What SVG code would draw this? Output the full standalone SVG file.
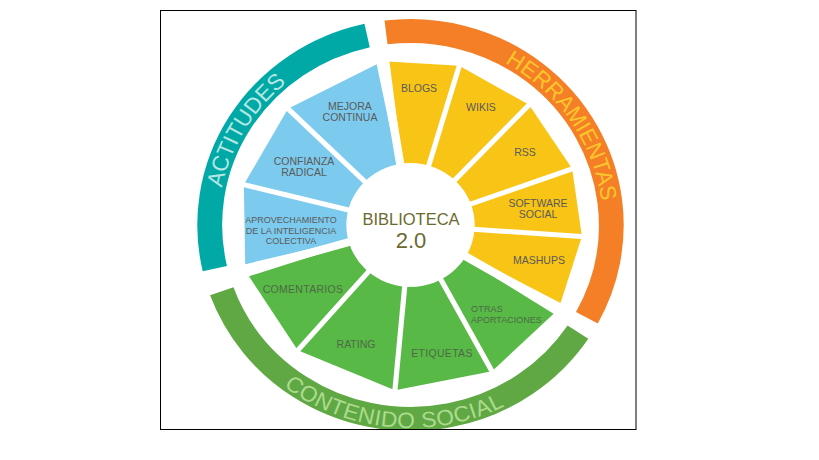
<svg xmlns="http://www.w3.org/2000/svg" width="819" height="460" viewBox="0 0 819 460">
<defs>
<style>
.lbl{font-family:"Liberation Sans",Arial,sans-serif;font-size:10.5px;fill:#5a5a5a;text-anchor:middle}
.sm{font-size:9px}
.glbl{fill:#4d6a44}
.ring{fill:none;stroke-width:24}
.rt{font-family:"Liberation Sans",Arial,sans-serif;font-size:22px}
.gap{stroke:#fff;stroke-width:5}
.wgap{stroke:#fff;stroke-width:8}
.blue{fill:#7ccaee}
.yel{fill:#f8c416}
.grn{fill:#58b947}
</style>
<clipPath id="frame"><rect x="161" y="11" width="475" height="418"/></clipPath>
</defs>
<rect width="819" height="460" fill="#fff"/>
<g clip-path="url(#frame)">
<g transform="translate(410.5,225) scale(1.035,1)">
<defs>
<path id="pA" d="M -162.2 91.0 A 186 186 0 0 1 2.3 -186.0" fill="none"/>
<path id="pH" d="M -13.0 -185.6 A 186 186 0 0 1 167.2 81.5" fill="none"/>
<path id="pC" d="M -183.4 84.6 A 201 201 0 0 0 165.0 116.5" fill="none"/>
</defs>
<g id="ring-actitudes">
<circle r="194" class="ring" stroke="#00a9a6" stroke-dasharray="306.4 2000" transform="rotate(-193)"/>
<text class="rt" fill="#b5e6e3"><textPath href="#pA" startOffset="50%" text-anchor="middle">ACTITUDES</textPath></text>
</g>
<g id="ring-herramientas">
<circle r="194" class="ring" stroke="#f47f26" stroke-dasharray="424.9 2000" transform="rotate(-97)"/>
<text class="rt" fill="#fbc62c"><textPath href="#pH" startOffset="50%" text-anchor="middle">HERRAMIENTAS</textPath></text>
</g>
<g id="ring-contenido">
<circle r="194" class="ring" stroke="#5fa843" stroke-dasharray="428.3 2000" transform="rotate(-326.5)"/>
<text class="rt" fill="#acdb8e" letter-spacing="0.5"><textPath href="#pC" startOffset="50%" text-anchor="middle">CONTENIDO SOCIAL</textPath></text>
</g>
<g id="segments">
<polygon id="seg-mejora" class="blue" points="0,0 -26.8,-163.8 -118.4,-116.3"/>
<polygon id="seg-confianza" class="blue" points="0,0 -118.4,-116.3 -161.0,-40.4"/>
<polygon id="seg-aprovechamiento" class="blue" points="0,0 -161.0,-40.4 -159.6,45.8"/>
<polygon id="seg-comentarios" class="grn" points="0,0 -159.6,45.8 -108.9,125.3"/>
<polygon id="seg-rating" class="grn" points="0,0 -108.9,125.3 -15.0,165.3"/>
<polygon id="seg-etiquetas" class="grn" points="0,0 -15.0,165.3 78.7,146.2"/>
<polygon id="seg-otras" class="grn" points="0,0 78.7,146.2 143.0,84.2"/>
<polygon id="seg-mashups" class="yel" points="0,0 143.0,84.2 165.6,11.6"/>
<polygon id="seg-software" class="yel" points="0,0 165.6,11.6 156.2,-56.2"/>
<polygon id="seg-rss" class="yel" points="0,0 156.2,-56.2 114.5,-120.2"/>
<polygon id="seg-wikis" class="yel" points="0,0 114.5,-120.2 47.1,-159.2"/>
<polygon id="seg-blogs" class="yel" points="0,0 47.1,-159.2 -26.8,-163.8"/>
</g>
<g id="separators" fill="#fff">
<line class="gap" x1="0" y1="0" x2="-128.4" y2="-126.1"/>
<line class="gap" x1="0" y1="0" x2="-174.6" y2="-43.8"/>
<line class="gap" x1="0" y1="0" x2="-118.1" y2="135.9"/>
<line class="gap" x1="0" y1="0" x2="-16.3" y2="179.2"/>
<line class="gap" x1="0" y1="0" x2="85.3" y2="158.5"/>
<line class="gap" x1="0" y1="0" x2="179.6" y2="12.6"/>
<line class="gap" x1="0" y1="0" x2="169.4" y2="-60.9"/>
<line class="gap" x1="0" y1="0" x2="124.2" y2="-130.3"/>
<line class="gap" x1="0" y1="0" x2="51.1" y2="-172.6"/>
<line class="wgap" x1="0" y1="0" x2="-28.9" y2="-177.6"/>
<line class="wgap" x1="0" y1="0" x2="-172.9" y2="49.6"/>
<line class="wgap" x1="0" y1="0" x2="155.0" y2="91.3"/>
<polygon points="0,0 -22.2,-178.6 -35.9,-176.4"/>
<polygon points="0,0 -174.8,42.9 -171.0,56.2"/>
<polygon points="0,0 151.5,97.2 158.5,85.3"/>
</g>
<circle r="62" fill="#fff"/>
</g>
</g>
<rect x="160.5" y="10.5" width="475.5" height="419" fill="none" stroke="#000" stroke-width="1"/>
<g id="center">
<text x="411" y="225" font-family="'Liberation Sans',Arial,sans-serif" font-size="16.5" fill="#6b6a2e" text-anchor="middle">BIBLIOTECA</text>
<text x="411" y="247.5" font-family="'Liberation Sans',Arial,sans-serif" font-size="22" fill="#6b6a2e" text-anchor="middle">2.0</text>
</g>
<g id="label-mejora"><text class="lbl" x="350" y="110">MEJORA</text><text class="lbl" x="350" y="121">CONTINUA</text></g>
<g id="label-confianza"><text class="lbl" x="304" y="165">CONFIANZA</text><text class="lbl" x="304" y="176">RADICAL</text></g>
<g id="label-aprovechamiento"><text class="lbl sm" x="291" y="223">APROVECHAMIENTO</text><text class="lbl sm" x="291" y="233.5">DE LA INTELIGENCIA</text><text class="lbl sm" x="291" y="244">COLECTIVA</text></g>
<g id="label-blogs"><text class="lbl" x="419" y="92">BLOGS</text></g>
<g id="label-wikis"><text class="lbl" x="481" y="111">WIKIS</text></g>
<g id="label-rss"><text class="lbl" x="525" y="156">RSS</text></g>
<g id="label-software"><text class="lbl" x="538" y="207">SOFTWARE</text><text class="lbl" x="538" y="218">SOCIAL</text></g>
<g id="label-mashups"><text class="lbl" x="539" y="264">MASHUPS</text></g>
<g id="label-comentarios"><text class="lbl glbl" x="303" y="293" letter-spacing="0.3">COMENTARIOS</text></g>
<g id="label-rating"><text class="lbl glbl" x="356" y="348">RATING</text></g>
<g id="label-etiquetas"><text class="lbl glbl" x="442" y="357" letter-spacing="0.3">ETIQUETAS</text></g>
<g id="label-otras"><text class="lbl glbl sm" x="471" y="312" text-anchor="start" style="text-anchor:start" letter-spacing="0.2">OTRAS</text><text class="lbl glbl sm" x="471" y="323" style="text-anchor:start">APORTACIONES</text></g>
<g id="connectors"/>
</svg>
